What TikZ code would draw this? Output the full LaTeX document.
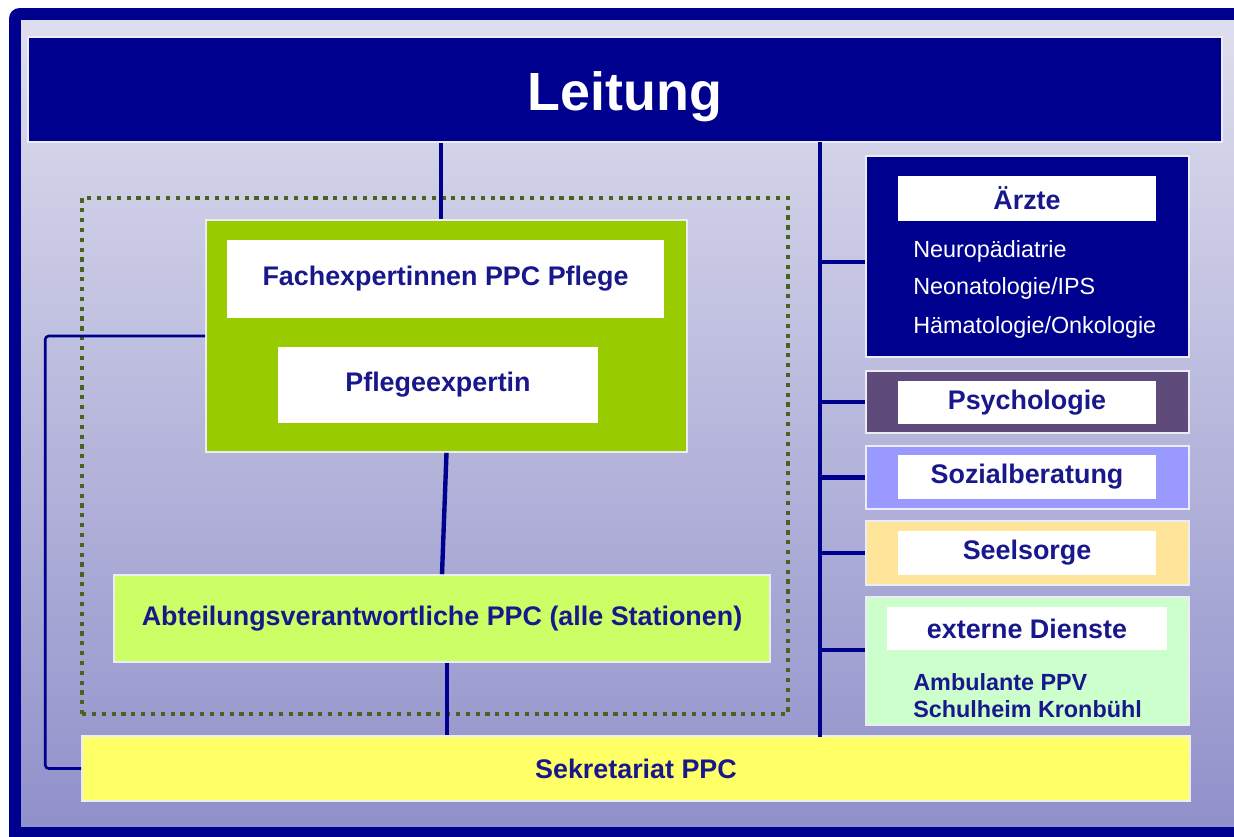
\documentclass[tikz,border=0pt]{standalone}
\usepackage{fontspec}
\setmainfont{Liberation Sans}
\usetikzlibrary{fit}
\definecolor{navy}{RGB}{0,0,142}
\definecolor{txtblue}{RGB}{24,24,140}
\definecolor{bgtop}{RGB}{222,222,238}
\definecolor{bgbot}{RGB}{145,145,203}
\definecolor{boxedge}{RGB}{236,236,244}
\definecolor{fxgreen}{RGB}{153,204,0}
\definecolor{abtgreen}{RGB}{204,255,102}
\definecolor{sekyellow}{RGB}{255,255,102}
\definecolor{psychcol}{RGB}{95,75,123}
\definecolor{sozcol}{RGB}{153,153,255}
\definecolor{seelcol}{RGB}{255,229,153}
\definecolor{extcol}{RGB}{204,255,204}
\definecolor{dotcol}{RGB}{72,100,28}
\newcommand\lblfont{\fontsize{15.3}{18}\selectfont\bfseries}
\newcommand\listfont{\fontsize{13.3}{16}\selectfont}
\begin{document}
\begin{tikzpicture}[x=0.02cm,y=-0.02cm,
  box/.style={draw=boxedge, line width=0.9pt, inner sep=0pt},
  inbox/.style={fill=white, draw=none, inner sep=0pt},
  lbl/.style={inner sep=0pt, font=\lblfont, text=txtblue},
  conn/.style={draw=navy, line width=2.8pt},
  thinconn/.style={draw=navy, line width=1.5pt, rounded corners=2pt},
  listtxt/.style={anchor=west, inner sep=0pt, font=\listfont},
  dotframe/.style={draw=dotcol, line width=2.4pt, dash pattern=on 2.4pt off 3.2pt}]
\useasboundingbox (0,0) rectangle (1234,836);
\clip (0,0) rectangle (1234,836);
% frame and background
\fill[white] (0,0) rectangle (1234,836);
\fill[navy, rounded corners=6pt] (9,8) rectangle (1270,870);
\shade[top color=bgtop, bottom color=bgbot] (21,20) rectangle (1260,826);

% Leitung
\node[box, fill=navy, fit={(28,37) (1222,142)}] (leitung) {};
\node[inner sep=0pt, text=white, font=\fontsize{30.6}{36}\selectfont\bfseries] (leitunglbl) at (625,97) {Leitung};

% dotted group frame
\node[dotframe, inner sep=0pt, fit={(82,198) (788,714)}] (group) {};

% green container
\node[box, fill=fxgreen, fit={(206,220) (687,452)}] (pflege) {};
\node[inbox, fit={(227,240) (664,318)}] (fach) {};
\node[lbl] (fachlbl) at (fach.center) {Fachexpertinnen PPC Pflege};
\node[inbox, fit={(278,347) (598,423)}] (pexp) {};
\node[lbl] (pexplbl) at (pexp.center) {Pflegeexpertin};

% Abteilungsverantwortliche
\node[box, fill=abtgreen, fit={(114,575) (770,662)}] (abt) {};
\node[lbl] (abtlbl) at (abt.center) {Abteilungsverantwortliche PPC (alle Stationen)};

% Sekretariat
\node[box, fill=sekyellow, fit={(82,736) (1190,801)}] (sek) {};
\node[lbl] (seklbl) at (636,769) {Sekretariat PPC};

% right column
\node[box, fill=navy, fit={(866,156) (1189,357)}] (aerzte) {};
\node[inbox, fit={(898,176) (1156,221)}] (aerztebox) {};
\node[lbl] (aerztelbl) at (aerztebox.center) {Ärzte};
\node[listtxt, text=white] (neuro) at (913,251) {Neuropädiatrie};
\node[listtxt, text=white] (neo) at (913,288) {Neonatologie/IPS};
\node[listtxt, text=white] (haema) at (913,327) {Hämatologie/Onkologie};

\node[box, fill=psychcol, fit={(866,371) (1189,433)}] (psych) {};
\node[inbox, fit={(898,381) (1156,424)}] (psychbox) {};
\node[lbl] (psychlbl) at (psychbox.center) {Psychologie};

\node[box, fill=sozcol, fit={(866,446) (1189,509)}] (soz) {};
\node[inbox, fit={(898,455) (1156,499)}] (sozbox) {};
\node[lbl] (sozlbl) at (sozbox.center) {Sozialberatung};

\node[box, fill=seelcol, fit={(866,521) (1189,585)}] (seel) {};
\node[inbox, fit={(898,531) (1156,575)}] (seelbox) {};
\node[lbl] (seellbl) at (seelbox.center) {Seelsorge};

\node[box, fill=extcol, fit={(866,597) (1189,725)}] (ext) {};
\node[inbox, fit={(887,607) (1167,650)}] (extbox) {};
\node[lbl] (extlbl) at (extbox.center) {externe Dienste};
\node[listtxt, font=\listfont\bfseries, text=txtblue] (amb) at (913,682) {Ambulante PPV};
\node[listtxt, font=\listfont\bfseries, text=txtblue] (schul) at (913,709) {Schulheim Kronbühl};

% connectors
\coordinate (ttop) at (820,142);
\coordinate (tbot) at (820,737);
\coordinate (ya) at (0,262);
\coordinate (ye) at (0,650);
\coordinate (xl) at (441,0);
\coordinate (xs) at (447,0);
\draw[conn] (leitung.south -| xl) -- (pflege.north -| xl);
\draw[conn, line width=2.5pt] (pflege.south) -- (abt.north);
\draw[conn] (abt.south -| xs) -- (sek.north -| xs);
\draw[thinconn] (pflege.west) -- ++(-160,0) |- (sek.west);
\draw[conn] (ttop) -- (tbot);
\draw[conn] (ttop |- ya) -- (aerzte.west |- ya);
\draw[conn] (ttop |- psych.west) -- (psych.west);
\draw[conn] (ttop |- soz.west) -- (soz.west);
\draw[conn] (ttop |- seel.west) -- (seel.west);
\draw[conn] (ttop |- ye) -- (ext.west |- ye);
\end{tikzpicture}
\end{document}
